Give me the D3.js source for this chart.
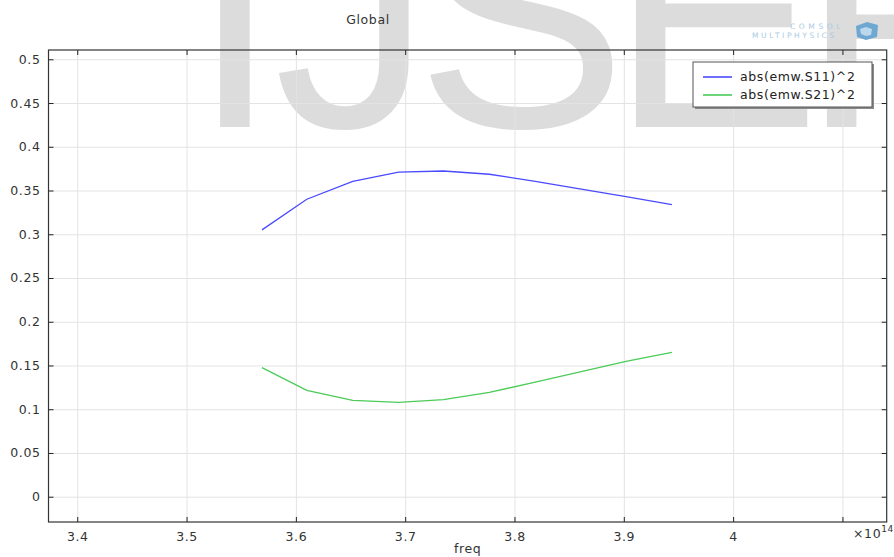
<!DOCTYPE html>
<html>
<head>
<meta charset="utf-8">
<script src="https://cdn.jsdelivr.net/npm/d3@7"></script>
<style>
  body { margin: 0; background: #fff; }
  svg text { font-family: "DejaVu Sans", sans-serif; }
</style>
</head>
<body>
<div id="wrapper"></div>
<script>
// data (freq in units of 1e14)
const freq = [3.569, 3.610, 3.652, 3.694, 3.735, 3.777, 3.819, 3.861, 3.902, 3.944]
const s11 = [0.305, 0.340, 0.3605, 0.371, 0.3723, 0.3686, 0.3604, 0.3516, 0.343, 0.3338]
const s21 = [0.1475, 0.1216, 0.1102, 0.1079, 0.1109, 0.1193, 0.1309, 0.143, 0.1548, 0.1651]
const seriesNames = ["abs(emw.S11)^2", "abs(emw.S21)^2"]
const seriesColors = ["#4a4aff", "#4ccb58"]
const xTicks = [3.4, 3.5, 3.6, 3.7, 3.8, 3.9, 4, 4.1]
const xTickLabels = ["3.4", "3.5", "3.6", "3.7", "3.8", "3.9", "4", ""]
const yTicks = [0, 0.05, 0.1, 0.15, 0.2, 0.25, 0.3, 0.35, 0.4, 0.45, 0.5]
const yTickLabels = ["0", "0.05", "0.1", "0.15", "0.2", "0.25", "0.3", "0.35", "0.4", "0.45", "0.5"]
const watermark = ["I", "J", "S", "E", "F"]

function drawChart(){
    let dimensions = {
        width: 894,
        height: 557,
        margin: { top: 50, right: 7.3, bottom: 35, left: 48.5 },
    }
    dimensions.boundedWidth = dimensions.width - dimensions.margin.left - dimensions.margin.right
    dimensions.boundedHeight = dimensions.height - dimensions.margin.top - dimensions.margin.bottom

    const wrapper = d3.select("#wrapper")
                      .append("svg")
                      .attr("width", dimensions.width)
                      .attr("height", dimensions.height)

    // watermark behind everything
    const wmX = [191, 274, 416, 610, 801]
    wrapper.append("g")
        .selectAll("text")
        .data(watermark)
        .enter()
        .append("text")
        .attr("x", (d, i) => wmX[i])
        .attr("y", 127)
        .attr("fill", "#dcdcdc")
        .style("font-family", "'Liberation Sans', Arial, sans-serif")
        .style("font-size", "316px")
        .text(d => d)

    // COMSOL logo
    const logo = wrapper.append("g").attr("fill", "#a9cbe3")
    logo.append("text").attr("x", 790).attr("y", 28.5)
        .style("font-size", "7.5px").style("letter-spacing", "3.6px").text("COMSOL")
    logo.append("text").attr("x", 752).attr("y", 37.5)
        .style("font-size", "7.5px").style("letter-spacing", "2.6px").text("MULTIPHYSICS")
    logo.append("path")
        .attr("d", "M856,26 L867,22 L878,25 L877,37 L866,40 L857,37 Z")
        .attr("fill", "#6ea7d2")
    logo.append("path")
        .attr("d", "M860,29 L866,27 L872,29 L871,35 L866,36 L861,34 Z")
        .attr("fill", "#bcd8ec")

    const bounds = wrapper.append("g")
        .attr("transform", `translate(${dimensions.margin.left},${dimensions.margin.top})`)

    const xScale = d3.scaleLinear()
        .domain([3.3737, 4.1405])
        .range([0, dimensions.boundedWidth])
    const yScale = d3.scaleLinear()
        .domain([-0.0289, 0.5106])
        .range([dimensions.boundedHeight, 0])

    // grid
    bounds.append("g")
        .attr("class", "grid")
        .attr("transform", `translate(0,${dimensions.boundedHeight})`)
        .call(d3.axisBottom(xScale).tickValues(xTicks).tickSize(-dimensions.boundedHeight).tickFormat(""))
    bounds.append("g")
        .attr("class", "grid")
        .call(d3.axisLeft(yScale).tickValues(yTicks).tickSize(-dimensions.boundedWidth).tickFormat(""))
    bounds.selectAll(".grid .domain").remove()
    bounds.selectAll(".grid line").attr("stroke", "#e3e3e3")

    // lines
    const series = [s11, s21]
    const lineGenerator = d3.line()
        .x((d, i) => xScale(freq[i]))
        .y(d => yScale(d))
    bounds.selectAll(".series")
        .data(series)
        .enter()
        .append("path")
        .attr("class", "series")
        .attr("fill", "none")
        .attr("stroke", (d, i) => seriesColors[i])
        .attr("stroke-width", 1.3)
        .attr("d", lineGenerator)

    // axes with inward ticks
    bounds.append("g")
        .attr("class", "axis")
        .attr("transform", `translate(0,${dimensions.boundedHeight})`)
        .call(d3.axisBottom(xScale).tickValues(xTicks).tickSizeInner(-5).tickSizeOuter(0)
              .tickPadding(10).tickFormat((d, i) => xTickLabels[i]))
    bounds.append("g")
        .attr("class", "axis")
        .call(d3.axisTop(xScale).tickValues(xTicks).tickSizeInner(-5).tickSizeOuter(0).tickFormat(""))
    bounds.append("g")
        .attr("class", "axis")
        .call(d3.axisLeft(yScale).tickValues(yTicks).tickSizeInner(-5).tickSizeOuter(0)
              .tickPadding(8).tickFormat((d, i) => yTickLabels[i]))
    bounds.append("g")
        .attr("class", "axis")
        .attr("transform", `translate(${dimensions.boundedWidth},0)`)
        .call(d3.axisRight(yScale).tickValues(yTicks).tickSizeInner(-5).tickSizeOuter(0).tickFormat(""))
    bounds.selectAll(".axis .domain").remove()
    bounds.selectAll(".axis line").attr("stroke", "#222")
    bounds.selectAll(".axis text")
        .attr("fill", "#333")
        .style("font-size", "12.5px")
        .style("letter-spacing", "0.6px")

    bounds.append("rect")
        .attr("width", dimensions.boundedWidth)
        .attr("height", dimensions.boundedHeight)
        .attr("fill", "none")
        .attr("stroke", "#333")
        .attr("stroke-width", 1.2)

    // labels
    wrapper.append("text")
        .attr("x", 368).attr("y", 24)
        .attr("text-anchor", "middle")
        .attr("fill", "#333")
        .style("font-size", "12.5px").style("letter-spacing", "0.6px")
        .text("Global")
    wrapper.append("text")
        .attr("x", dimensions.margin.left + dimensions.boundedWidth / 2).attr("y", 553)
        .attr("text-anchor", "middle")
        .attr("fill", "#333")
        .style("font-size", "12.5px").style("letter-spacing", "0.6px")
        .text("freq")
    const expo = wrapper.append("text")
        .attr("x", 853).attr("y", 538)
        .attr("fill", "#333")
        .style("font-size", "12.5px").style("letter-spacing", "0.6px")
    expo.append("tspan").text("×10")
    expo.append("tspan").attr("dy", -6).style("font-size", "9px").text("14")

    // legend
    const legend = wrapper.append("g").attr("transform", "translate(693,62)")
    legend.append("rect")
        .attr("x", 2).attr("y", 2).attr("width", 179).attr("height", 45)
        .attr("fill", "#8a8a8a")
    legend.append("rect")
        .attr("width", 179).attr("height", 45)
        .attr("fill", "#fff")
        .attr("stroke", "#555")
        .attr("stroke-width", 1)
    const rows = legend.selectAll(".row")
        .data(seriesNames)
        .enter()
        .append("g")
        .attr("transform", (d, i) => `translate(0,${15 + i * 18})`)
    rows.append("line")
        .attr("x1", 10).attr("x2", 39)
        .attr("stroke", (d, i) => seriesColors[i])
        .attr("stroke-width", 1.6)
    rows.append("text")
        .attr("x", 47)
        .attr("dy", "0.35em")
        .attr("fill", "#222")
        .style("font-size", "12.5px").style("letter-spacing", "0.6px")
        .text(d => d)
}
drawChart()
</script>
</body>
</html>
